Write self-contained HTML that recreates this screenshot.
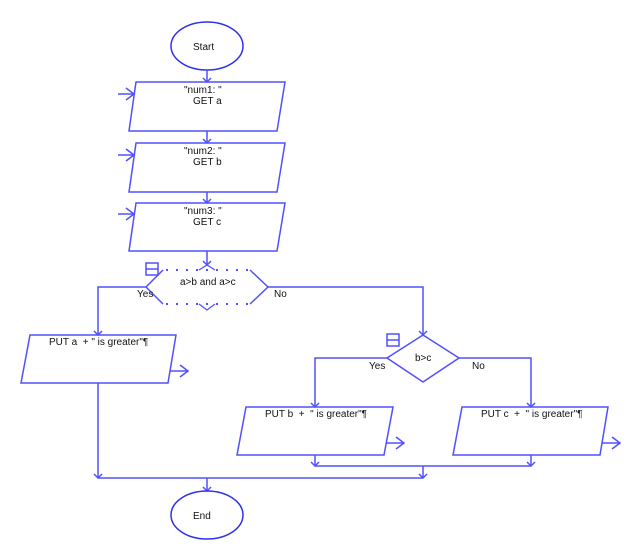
<!DOCTYPE html>
<html><head><meta charset="utf-8"><style>
html,body{margin:0;padding:0;background:#fff;}
svg{display:block}
text{font-family:"Liberation Sans",sans-serif;font-size:10px;fill:#111}
</style></head><body>
<svg width="642" height="552" viewBox="0 0 642 552" xmlns="http://www.w3.org/2000/svg">
<g fill="none" stroke="#5050ff" stroke-width="1.5">
<!-- start -->
<ellipse cx="207" cy="46" rx="36" ry="24" stroke="#3030ee"/>
<line x1="207" y1="70" x2="207" y2="82"/><polyline points="203,78 207,82 211,78"/>
<!-- para1 -->
<polygon points="136,82 285,82 277,131 129,131"/>
<line x1="118" y1="94" x2="134" y2="94"/><polyline points="126,88 134,94 126,100"/>
<line x1="207" y1="131" x2="207" y2="143"/><polyline points="203,139 207,143 211,139"/>
<!-- para2 -->
<polygon points="136,143 285,143 277,192 129,192"/>
<line x1="118" y1="155" x2="134" y2="155"/><polyline points="126,149 134,155 126,161"/>
<line x1="207" y1="192" x2="207" y2="203"/><polyline points="203,199 207,203 211,199"/>
<!-- para3 -->
<polygon points="136,203 285,203 277,251 129,251"/>
<line x1="118" y1="214" x2="134" y2="214"/><polyline points="126,208 134,214 126,220"/>
<line x1="207" y1="251" x2="207" y2="265"/><polyline points="203,261 207,265 211,261"/>
<!-- diamond1 -->
<polyline points="163,270 146,287 163,304"/>
<polyline points="250,270 268,287 250,304"/>
<polyline points="199,270 207,265 215,270" stroke-width="1.2"/>
<polyline points="199,304 207,310 215,304" stroke-width="1.2"/>
<line x1="166" y1="270" x2="248" y2="270" stroke-dasharray="2,8" stroke-width="2"/>
<line x1="166" y1="304" x2="248" y2="304" stroke-dasharray="2,8" stroke-width="2"/>
<rect x="146" y="263" width="12" height="12"/><line x1="146" y1="269" x2="158" y2="269"/>
<polyline points="146,287 98,287 98,335"/><polyline points="94,331 98,335 102,331"/>
<polyline points="268,287 423,287 423,335"/><polyline points="419,331 423,335 427,331"/>
<!-- PUT a -->
<polygon points="30,335 176,335 168,383 21,383"/>
<line x1="170" y1="371" x2="188" y2="371"/><polyline points="180,365 188,371 180,377"/>
<polyline points="98,383 98,478"/><polyline points="94,474 98,478 102,474"/>
<!-- diamond2 -->
<polygon points="387,358 423,335 459,358 423,382"/>
<rect x="387" y="334" width="12" height="12"/><line x1="387" y1="340" x2="399" y2="340"/>
<polyline points="387,358 315,358 315,407"/><polyline points="311,403 315,407 319,403"/>
<polyline points="459,358 531,358 531,407"/><polyline points="527,403 531,407 535,403"/>
<!-- PUT b -->
<polygon points="246,407 393,407 384,455 237,455"/>
<line x1="386" y1="443" x2="404" y2="443"/><polyline points="396,437 404,443 396,449"/>
<!-- PUT c -->
<polygon points="462,407 608,407 600,455 453,455"/>
<line x1="602" y1="443" x2="620" y2="443"/><polyline points="612,437 620,443 612,449"/>
<!-- merges -->
<line x1="315" y1="455" x2="315" y2="466"/><polyline points="311,462 315,466 319,462"/>
<line x1="531" y1="455" x2="531" y2="466"/><polyline points="527,462 531,466 535,462"/>
<line x1="315" y1="466" x2="531" y2="466"/>
<line x1="423" y1="466" x2="423" y2="478"/><polyline points="419,474 423,478 427,474"/>
<line x1="98" y1="478" x2="423" y2="478"/>
<line x1="207" y1="478" x2="207" y2="491"/><polyline points="203,487 207,491 211,487"/>
<ellipse cx="207" cy="515" rx="36" ry="24" stroke="#3030ee"/>
</g>
<text x="193" y="50">Start</text>
<text x="193" y="519">End</text>
<text x="184" y="93">"num1: "</text><text x="193" y="104">GET a</text>
<text x="184" y="154">"num2: "</text><text x="193" y="165">GET b</text>
<text x="184" y="214">"num3: "</text><text x="193" y="225">GET c</text>
<text x="180" y="285">a&gt;b and a&gt;c</text>
<text x="137" y="297">Yes</text>
<text x="274" y="297">No</text>
<text x="49" y="345">PUT a&#160; + " is greater"¶</text>
<text x="415" y="361">b&gt;c</text>
<text x="369" y="369">Yes</text>
<text x="472" y="369">No</text>
<text x="265" y="417">PUT b&#160; +&#160; " is greater"¶</text>
<text x="481" y="417">PUT c&#160; +&#160; " is greater"¶</text>
</svg>
</body></html>
